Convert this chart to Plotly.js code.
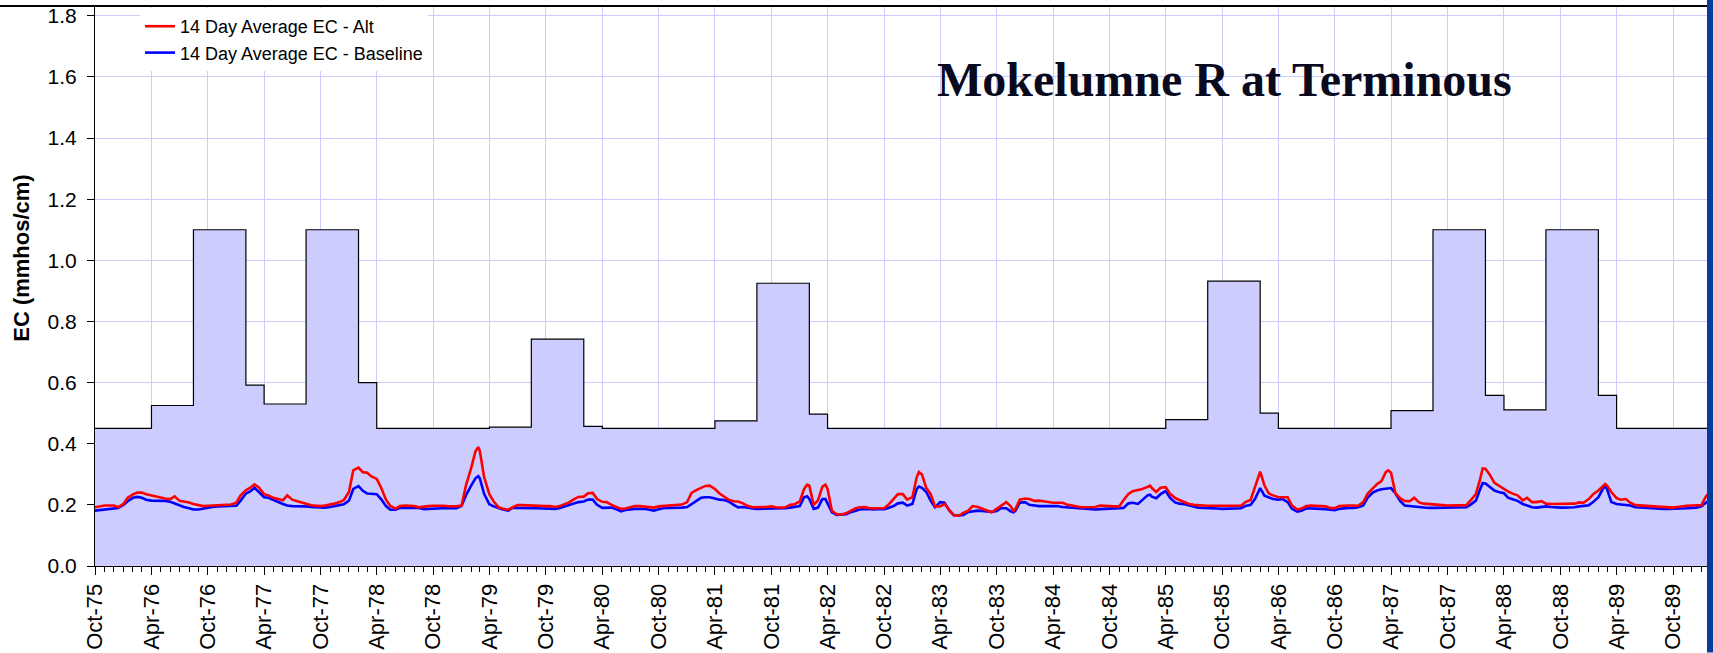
<!DOCTYPE html>
<html>
<head>
<meta charset="utf-8">
<script src="https://cdn.plot.ly/plotly-3.0.1.min.js"></script>
<style>html,body{margin:0;padding:0;background:#fff;}#chart{width:1713px;height:653px;}</style>
</head>
<body>
<div id="chart"></div>
<script>
// Standard (step) values
const stdDates = ['1975-10-01','1976-04-01','1976-08-15','1977-02-01','1977-04-01','1977-08-15','1978-02-01','1978-04-01','1979-04-01','1979-08-15','1980-02-01','1980-04-01','1981-04-01','1981-08-15','1982-02-01','1982-04-01','1985-04-01','1985-08-15','1986-02-01','1986-04-01','1987-04-01','1987-08-15','1988-02-01','1988-04-01','1988-08-15','1989-02-01','1989-04-01','1990-02-01'];
const stdEC = [0.45,0.525,1.1,0.592,0.53,1.1,0.6,0.45,0.454,0.742,0.457,0.45,0.475,0.925,0.497,0.45,0.479,0.932,0.5,0.45,0.508,1.1,0.558,0.511,1.1,0.558,0.45,0.45];

const dates = [
'1975-10-01','1975-10-15','1975-11-01','1975-11-15','1975-12-01','1975-12-15',
'1976-01-01','1976-01-15','1976-02-01','1976-02-15','1976-03-01','1976-03-15','1976-04-01','1976-04-15','1976-05-01','1976-05-15','1976-06-01','1976-06-15','1976-07-01','1976-07-15','1976-08-01','1976-08-15','1976-09-01','1976-09-15','1976-10-01','1976-10-15','1976-11-01','1976-11-15','1976-12-01','1976-12-15',
'1977-01-01','1977-01-15','1977-02-01','1977-02-15','1977-03-01','1977-03-15','1977-04-01','1977-04-15','1977-05-01','1977-05-15','1977-06-01','1977-06-15','1977-07-01','1977-07-15','1977-08-01','1977-08-15','1977-09-01','1977-09-15','1977-10-01','1977-10-15','1977-11-01','1977-11-15','1977-12-01','1977-12-15',
'1978-01-01','1978-01-15','1978-02-01','1978-02-15','1978-03-01','1978-03-15','1978-04-01','1978-04-15','1978-05-01','1978-05-15','1978-06-01','1978-06-15','1978-07-01','1978-07-15','1978-08-01','1978-08-15','1978-09-01','1978-09-15','1978-10-01','1978-10-15','1978-11-01','1978-11-15','1978-12-01','1978-12-15',
'1979-01-01','1979-01-15','1979-02-01','1979-02-15','1979-02-24','1979-03-01','1979-03-15','1979-04-01','1979-04-15','1979-05-01','1979-05-15','1979-06-01','1979-06-15','1979-07-01','1979-07-15','1979-08-01','1979-08-15','1979-09-01','1979-09-15','1979-10-01','1979-10-15','1979-11-01','1979-11-15','1979-12-01','1979-12-15',
'1980-01-01','1980-01-15','1980-02-01','1980-02-15','1980-03-01','1980-03-15','1980-04-01','1980-04-15','1980-05-01','1980-05-15','1980-06-01','1980-06-15','1980-07-01','1980-07-15','1980-08-01','1980-08-15','1980-09-01','1980-09-15','1980-10-01','1980-10-15','1980-11-01','1980-11-15','1980-12-01','1980-12-15',
'1981-01-01','1981-01-15','1981-02-01','1981-02-15','1981-03-01','1981-03-15','1981-04-01','1981-04-15','1981-05-01','1981-05-15','1981-06-01','1981-06-15','1981-07-01','1981-07-15','1981-08-01','1981-08-15','1981-09-01','1981-09-15','1981-10-01','1981-10-15','1981-11-01','1981-11-15','1981-12-01','1981-12-15',
'1982-01-01','1982-01-15','1982-01-25','1982-02-01','1982-02-15','1982-03-01','1982-03-15','1982-03-25','1982-04-01','1982-04-15','1982-05-01','1982-05-15','1982-06-01','1982-06-15','1982-07-01','1982-07-15','1982-08-01','1982-08-15','1982-09-01','1982-09-15','1982-10-01','1982-10-15','1982-11-01','1982-11-15','1982-12-01','1982-12-15',
'1983-01-01','1983-01-15','1983-01-22','1983-02-01','1983-02-15','1983-03-01','1983-03-15','1983-04-01','1983-04-15','1983-05-01','1983-05-15','1983-06-01','1983-06-15','1983-07-01','1983-07-15','1983-08-01','1983-08-15','1983-09-01','1983-09-15','1983-10-01','1983-10-15','1983-11-01','1983-11-15','1983-11-25','1983-12-01','1983-12-15',
'1984-01-01','1984-01-15','1984-02-01','1984-02-15','1984-03-01','1984-03-15','1984-04-01','1984-04-15','1984-05-01','1984-05-15','1984-06-01','1984-06-15','1984-07-01','1984-07-15','1984-08-01','1984-08-15','1984-09-01','1984-09-15','1984-10-01','1984-10-15','1984-11-01','1984-11-15','1984-12-01','1984-12-15',
'1985-01-01','1985-01-15','1985-02-01','1985-02-09','1985-02-15','1985-03-01','1985-03-15','1985-04-01','1985-04-15','1985-05-01','1985-05-15','1985-06-01','1985-06-15','1985-07-01','1985-07-15','1985-08-01','1985-08-15','1985-09-01','1985-09-15','1985-10-01','1985-10-15','1985-11-01','1985-11-15','1985-12-01','1985-12-15',
'1986-01-01','1986-01-15','1986-02-01','1986-02-15','1986-03-01','1986-03-15','1986-04-01','1986-04-15','1986-05-01','1986-05-15','1986-06-01','1986-06-15','1986-07-01','1986-07-15','1986-08-01','1986-08-15','1986-09-01','1986-09-15','1986-10-01','1986-10-15','1986-11-01','1986-11-15','1986-12-01','1986-12-15',
'1987-01-01','1987-01-15','1987-02-01','1987-02-15','1987-03-01','1987-03-15','1987-03-23','1987-04-01','1987-04-15','1987-05-01','1987-05-15','1987-06-01','1987-06-15','1987-07-01','1987-07-15','1987-08-01','1987-08-15','1987-09-01','1987-09-15','1987-10-01','1987-10-15','1987-11-01','1987-11-15','1987-12-01','1987-12-15',
'1988-01-01','1988-01-15','1988-01-23','1988-02-01','1988-02-15','1988-03-01','1988-03-15','1988-04-01','1988-04-15','1988-05-01','1988-05-15','1988-06-01','1988-06-15','1988-07-01','1988-07-15','1988-08-01','1988-08-15','1988-09-01','1988-09-15','1988-10-01','1988-10-15','1988-11-01','1988-11-15','1988-12-01','1988-12-15',
'1989-01-01','1989-01-15','1989-02-01','1989-02-15','1989-02-23','1989-03-01','1989-03-15','1989-04-01','1989-04-15','1989-05-01','1989-05-15','1989-06-01','1989-06-15','1989-07-01','1989-07-15','1989-08-01','1989-08-15','1989-09-01','1989-09-15','1989-10-01','1989-10-15','1989-11-01','1989-11-15','1989-12-01','1989-12-15',
'1990-01-01','1990-01-15','1990-02-01'
];

const altEC = [
0.192,0.195,0.198,0.198,0.198,0.192,
0.203,0.223,0.234,0.240,0.240,0.235,0.231,0.226,0.223,0.221,0.219,0.228,0.213,0.211,0.208,0.203,0.198,0.196,0.197,0.198,0.199,0.199,0.200,0.201,
0.207,0.231,0.248,0.256,0.267,0.257,0.235,0.231,0.223,0.219,0.215,0.231,0.217,0.213,0.209,0.204,0.199,0.197,0.196,0.198,0.200,0.204,0.209,0.215,
0.242,0.313,0.322,0.307,0.305,0.293,0.285,0.257,0.217,0.196,0.188,0.196,0.198,0.198,0.196,0.192,0.195,0.196,0.197,0.198,0.197,0.196,0.195,0.195,
0.198,0.263,0.320,0.375,0.389,0.377,0.291,0.235,0.211,0.192,0.187,0.184,0.192,0.199,0.199,0.198,0.198,0.198,0.197,0.196,0.196,0.193,0.196,0.202,0.208,
0.219,0.226,0.227,0.238,0.239,0.219,0.210,0.209,0.200,0.193,0.187,0.188,0.193,0.196,0.196,0.195,0.193,0.191,0.195,0.196,0.197,0.198,0.199,0.201,
0.209,0.239,0.249,0.255,0.262,0.263,0.252,0.238,0.226,0.217,0.212,0.211,0.205,0.197,0.192,0.192,0.192,0.193,0.195,0.192,0.191,0.192,0.200,0.202,
0.211,0.252,0.266,0.263,0.200,0.215,0.259,0.266,0.252,0.181,0.169,0.168,0.173,0.181,0.189,0.192,0.193,0.189,0.189,0.188,0.189,0.200,0.219,0.235,0.235,0.217,
0.225,0.291,0.307,0.299,0.255,0.236,0.195,0.195,0.203,0.181,0.165,0.165,0.174,0.181,0.196,0.193,0.187,0.180,0.176,0.187,0.198,0.209,0.196,0.180,0.187,0.217,
0.221,0.219,0.213,0.214,0.212,0.209,0.207,0.207,0.207,0.201,0.197,0.195,0.192,0.192,0.192,0.193,0.198,0.196,0.196,0.195,0.195,0.215,0.236,0.245,
0.249,0.252,0.259,0.263,0.255,0.242,0.256,0.258,0.236,0.223,0.216,0.209,0.203,0.200,0.198,0.198,0.197,0.197,0.197,0.198,0.198,0.197,0.196,0.197,0.209,
0.216,0.258,0.309,0.263,0.237,0.231,0.225,0.225,0.225,0.198,0.185,0.188,0.196,0.198,0.197,0.196,0.195,0.190,0.189,0.196,0.198,0.198,0.198,0.197,
0.209,0.236,0.254,0.268,0.278,0.307,0.313,0.305,0.239,0.221,0.213,0.212,0.223,0.208,0.204,0.202,0.201,0.200,0.199,0.198,0.198,0.198,0.198,0.199,0.215,
0.235,0.285,0.319,0.318,0.299,0.272,0.263,0.250,0.243,0.236,0.231,0.215,0.223,0.209,0.209,0.212,0.204,0.203,0.203,0.203,0.202,0.202,0.204,0.208,0.207,
0.219,0.235,0.247,0.262,0.268,0.263,0.242,0.222,0.217,0.219,0.207,0.199,0.198,0.197,0.196,0.195,0.193,0.192,0.192,0.191,0.193,0.196,0.197,0.198,0.198,
0.199,0.227,0.247
];

const baseEC = [
0.181,0.183,0.185,0.187,0.189,0.190,
0.200,0.212,0.223,0.226,0.223,0.217,0.214,0.214,0.213,0.213,0.210,0.204,0.198,0.193,0.189,0.185,0.185,0.188,0.192,0.193,0.195,0.195,0.196,0.196,
0.197,0.214,0.237,0.244,0.256,0.242,0.225,0.223,0.215,0.210,0.203,0.198,0.196,0.196,0.195,0.195,0.193,0.192,0.191,0.191,0.193,0.196,0.198,0.202,
0.214,0.252,0.261,0.246,0.237,0.236,0.235,0.219,0.196,0.184,0.184,0.190,0.190,0.190,0.190,0.190,0.186,0.186,0.187,0.188,0.189,0.189,0.189,0.189,
0.197,0.231,0.263,0.287,0.294,0.287,0.236,0.202,0.195,0.189,0.185,0.181,0.191,0.190,0.189,0.189,0.189,0.189,0.189,0.189,0.188,0.187,0.190,0.195,0.199,
0.204,0.209,0.211,0.217,0.217,0.200,0.190,0.191,0.191,0.186,0.179,0.183,0.186,0.187,0.187,0.187,0.184,0.181,0.186,0.189,0.190,0.190,0.191,0.191,
0.193,0.203,0.214,0.223,0.225,0.225,0.221,0.217,0.216,0.211,0.200,0.192,0.193,0.190,0.188,0.187,0.187,0.187,0.187,0.187,0.188,0.189,0.191,0.193,
0.196,0.225,0.228,0.219,0.187,0.191,0.219,0.219,0.203,0.176,0.167,0.167,0.169,0.176,0.181,0.185,0.187,0.185,0.185,0.187,0.186,0.190,0.196,0.205,0.207,0.198,
0.203,0.252,0.260,0.256,0.242,0.214,0.192,0.209,0.207,0.181,0.167,0.165,0.167,0.177,0.179,0.181,0.180,0.178,0.177,0.180,0.189,0.189,0.179,0.176,0.181,0.207,
0.209,0.200,0.197,0.196,0.196,0.196,0.196,0.196,0.193,0.192,0.191,0.189,0.187,0.186,0.185,0.185,0.186,0.187,0.187,0.188,0.189,0.190,0.205,0.207,
0.203,0.216,0.231,0.233,0.227,0.222,0.235,0.245,0.223,0.208,0.204,0.202,0.198,0.193,0.191,0.190,0.190,0.189,0.188,0.187,0.187,0.187,0.188,0.189,0.196,
0.200,0.219,0.255,0.230,0.225,0.219,0.217,0.219,0.209,0.187,0.178,0.181,0.189,0.189,0.188,0.187,0.186,0.184,0.183,0.187,0.189,0.190,0.190,0.192,
0.198,0.223,0.240,0.247,0.251,0.252,0.254,0.255,0.238,0.212,0.198,0.196,0.195,0.192,0.190,0.190,0.190,0.190,0.190,0.191,0.191,0.191,0.191,0.192,0.201,
0.214,0.252,0.271,0.270,0.260,0.247,0.242,0.238,0.223,0.217,0.213,0.203,0.197,0.192,0.191,0.192,0.195,0.193,0.191,0.191,0.191,0.191,0.192,0.195,0.196,
0.199,0.209,0.225,0.251,0.261,0.252,0.209,0.203,0.202,0.200,0.198,0.192,0.191,0.190,0.189,0.189,0.188,0.187,0.187,0.187,0.187,0.188,0.189,0.190,0.191,
0.195,0.207,0.217
];

const seriesNames = ['14 Day Average EC - Alt', '14 Day Average EC - Baseline'];
const chartTitle = 'Mokelumne R at Terminous';
const yTitle = 'EC (mmhos/cm)';

const sans = 'Liberation Sans, Arial, Helvetica, sans-serif';

const traces = [
  {
    x: stdDates, y: stdEC, type: 'scatter', mode: 'lines',
    line: {shape: 'hv', color: '#000000', width: 1.2},
    fill: 'tozeroy', fillcolor: '#ccccff',
    showlegend: false, hoverinfo: 'skip'
  },
  {
    x: dates, y: baseEC, type: 'scatter', mode: 'lines', name: seriesNames[1],
    line: {color: '#0000ff', width: 2.6}, legendrank: 2
  },
  {
    x: dates, y: altEC, type: 'scatter', mode: 'lines', name: seriesNames[0],
    line: {color: '#ff0000', width: 2.6}, legendrank: 1
  }
];

const W = 1713, H = 653, mL = 95, mR = 6, mT = 6, mB = 86.5;
const pw = W - mL - mR, ph = H - mT - mB;
const px = v => (v - mL) / pw;
const py = v => (H - mB - v) / ph;

const layout = {
  width: W, height: H,
  margin: {l: mL, r: mR, t: mT, b: mB, pad: 0},
  paper_bgcolor: '#ffffff', plot_bgcolor: '#ffffff',
  font: {family: sans, color: '#000000'},
  showlegend: true,
  legend: {
    x: px(140), xanchor: 'left', y: py(8), yanchor: 'top',
    bgcolor: '#ffffff', borderwidth: 0,
    font: {family: sans, size: 18, color: '#000000'},
    tracegroupgap: 0, itemwidth: 30
  },
  xaxis: {
    type: 'date',
    range: ['1975-10-01', '1990-01-19'],
    tick0: '1975-10-01', dtick: 'M6', tickformat: '%b-%y',
    tickangle: -90,
    ticks: 'outside', ticklen: 8, tickcolor: '#000000', tickwidth: 1,
    tickfont: {family: sans, size: 22, color: '#000000'},
    showline: true, linecolor: '#000000', linewidth: 1,
    showgrid: true, gridcolor: '#ccccff', gridwidth: 1,
    zeroline: false,
    minor: {dtick: 'M1', tick0: '1975-10-01', ticks: 'outside', ticklen: 5, tickcolor: '#000000', tickwidth: 1, showgrid: false}
  },
  yaxis: {
    range: [0, 1.832],
    tick0: 0, dtick: 0.2, tickformat: '.1f',
    ticks: 'outside', ticklen: 7, tickcolor: '#000000',
    tickfont: {family: sans, size: 21, color: '#000000'},
    ticklabelstandoff: 6,
    showline: true, linecolor: '#000000', linewidth: 1,
    showgrid: true, gridcolor: '#ccccff', gridwidth: 1,
    zeroline: false
  },
  annotations: [
    {
      text: '<b>' + chartTitle + '</b>', xref: 'paper', yref: 'paper',
      x: px(1224), y: py(80), xanchor: 'center', yanchor: 'middle', showarrow: false,
      font: {family: 'Liberation Serif, Times New Roman, serif', size: 48, color: '#0a0a1f'}
    },
    {
      text: '<b>' + yTitle + '</b>', xref: 'paper', yref: 'paper',
      x: px(22), y: py(259), xanchor: 'center', yanchor: 'middle', textangle: -90, showarrow: false,
      font: {family: sans, size: 22, color: '#000000'}
    }
  ],
  shapes: [
    {type: 'line', xref: 'paper', yref: 'paper', x0: px(0), x1: px(1707), y0: py(6), y1: py(6),
     line: {color: '#000000', width: 2}},
    {type: 'rect', xref: 'paper', yref: 'paper', x0: px(1707), x1: px(1713), y0: py(653), y1: py(0),
     fillcolor: '#063b9c', line: {width: 0}}
  ]
};

Plotly.newPlot('chart', traces, layout, {staticPlot: true, displayModeBar: false});
</script>
</body>
</html>
